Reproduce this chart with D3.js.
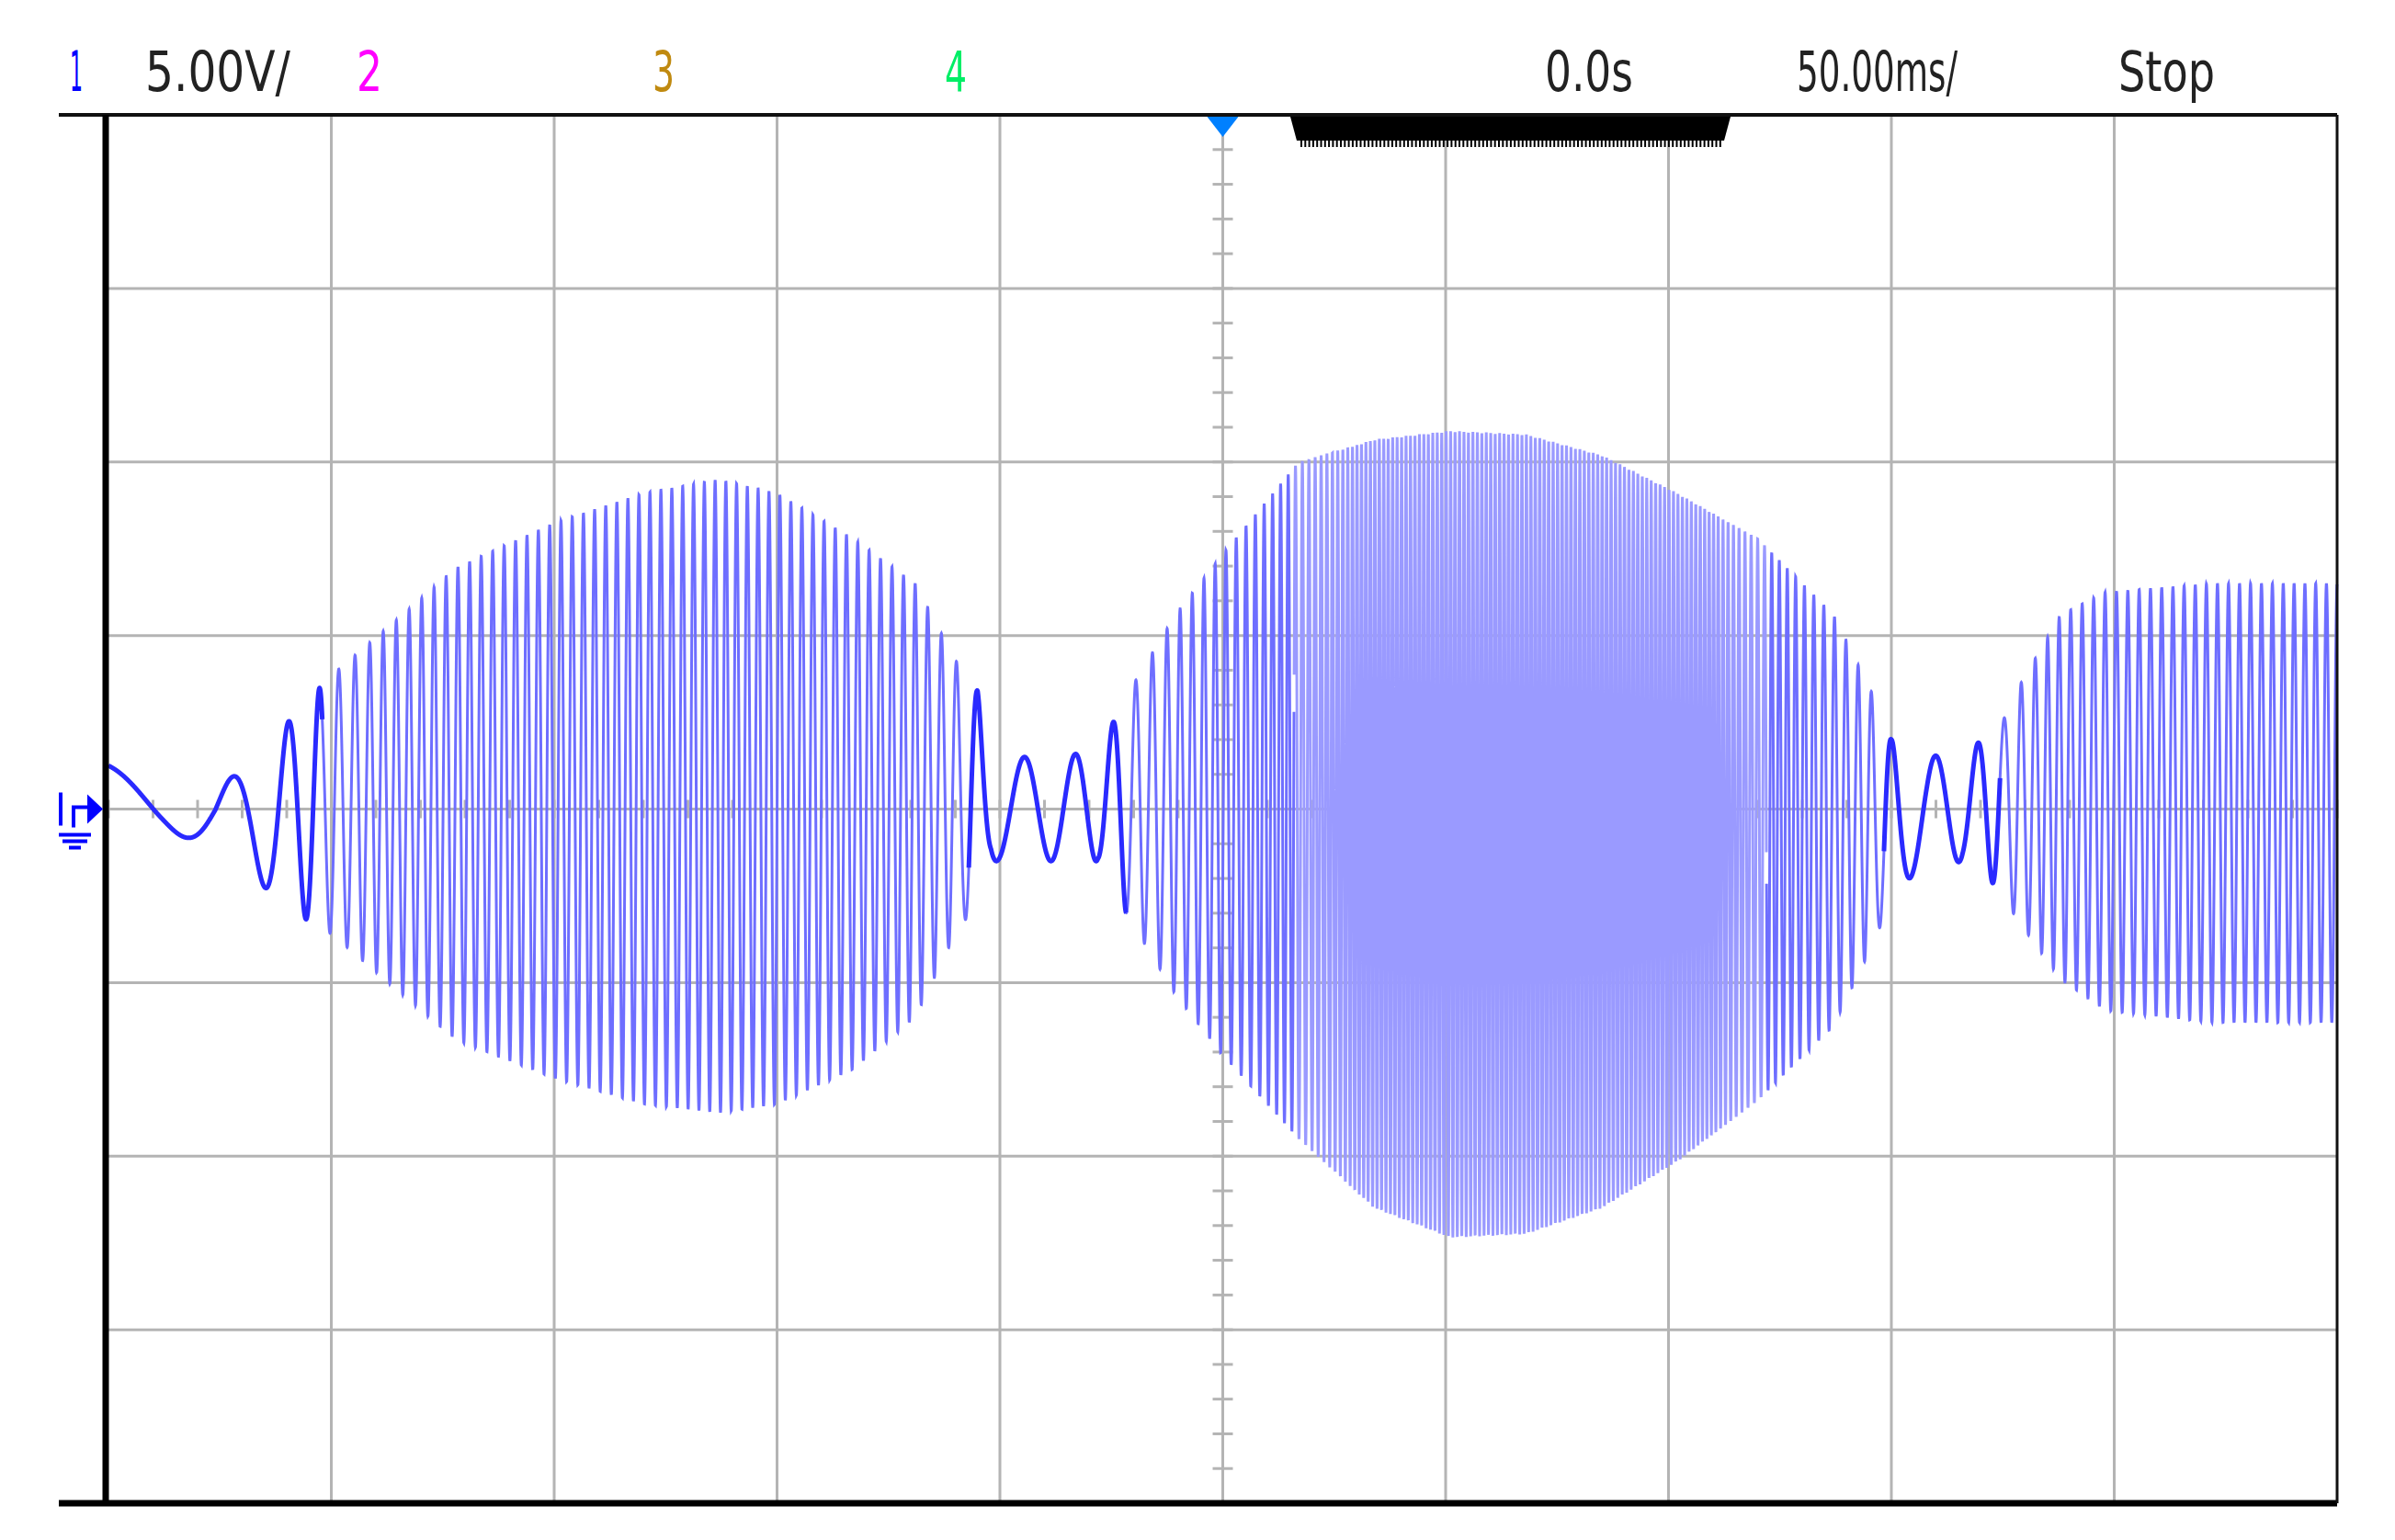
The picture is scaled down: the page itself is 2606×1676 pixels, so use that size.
<!DOCTYPE html>
<html><head><meta charset="utf-8">
<script src="https://cdn.jsdelivr.net/npm/d3@7"></script>
<style>body{margin:0;background:#fff}svg{display:block}</style>
</head><body>
<svg id="c" width="2606" height="1676"></svg>
<script>
// ---- data ----
const timeRange = [-250, 250];      // ms, 50 ms/div
const voltRange = [-20, 20];        // V, 5 V/div
// envelope samples: time (ms), top and bottom (divisions)
const envT   = [-250,-238,-226,-215,-208,-200,-184,-172,-150,-130,-113,-100,-83,-69,-60,-55,-52,-40,-28,-21,-10.6,0,17,34,51,68,85,102,120,137,147,150,158,166,174,178,188,198,222,250];
const envTop = [0.25,0.10,0.10,0.35,0.55,0.77,1.12,1.39,1.65,1.82,1.90,1.82,1.56,1.30,0.86,0.68,0.30,0.30,0.33,0.68,1.12,1.47,2.00,2.13,2.18,2.16,2.04,1.82,1.56,1.12,0.60,0.40,0.30,0.33,0.45,0.68,1.12,1.25,1.30,1.30];
const envBot = [0.00,-0.10,-0.25,-0.45,-0.60,-0.72,-1.07,-1.33,-1.55,-1.70,-1.75,-1.70,-1.50,-1.20,-0.72,-0.54,-0.30,-0.30,-0.30,-0.63,-1.07,-1.42,-1.90,-2.30,-2.47,-2.45,-2.30,-2.03,-1.68,-1.25,-0.72,-0.45,-0.35,-0.30,-0.45,-0.63,-0.98,-1.16,-1.23,-1.23];
// carrier period (ms) along time
const perT = [-250,-225,-210,-200,-190,-170,-110,-70,-60,-55,-50,-35,-25,-20,-10,0,20,30,110,130,145,150,155,165,172,178,185,250];
const perV = [40,20,9,4,3,2.6,2.4,2.6,3.5,6,13,11,7,4,2.8,2.4,1.4,1.0,1.0,2.0,3,6,12,10,6,3.5,2.6,2.4];
const hLabels = [
  {t:"1", c:"#0000ff"}, {t:"5.00V/", c:"#222"}, {t:"2", c:"#ff00ff"},
  {t:"3", c:"#c08a10"}, {t:"4", c:"#00ee66"}, {t:"0.0s", c:"#222"},
  {t:"50.00ms/", c:"#222"}, {t:"Stop", c:"#222"}];

// ---- layout ----
const svg = d3.select("#c");
const L=118, R=2543, T=125, B=1636;
const x = d3.scaleLinear().domain(timeRange).range([L,R]);
const y = d3.scaleLinear().domain(voltRange).range([B,T]);
const g = svg.append("g");

// grid
d3.range(-250,251,50).slice(1,-1).forEach(v=>g.append("line").attr("x1",x(v)).attr("x2",x(v)).attr("y1",T).attr("y2",B).attr("stroke","#b4b4b4").attr("stroke-width",3));
d3.range(-20,21,5).slice(1,-1).forEach(v=>g.append("line").attr("x1",L).attr("x2",R).attr("y1",y(v)).attr("y2",y(v)).attr("stroke","#b4b4b4").attr("stroke-width",3));
// centre ticks
d3.range(-250,251,10).forEach(v=>g.append("line").attr("x1",x(v)).attr("x2",x(v)).attr("y1",y(0)-10).attr("y2",y(0)+10).attr("stroke","#b4b4b4").attr("stroke-width",3));
d3.range(-20,21,1).forEach(v=>g.append("line").attr("x1",x(0)-11).attr("x2",x(0)+11).attr("y1",y(v)).attr("y2",y(v)).attr("stroke","#b4b4b4").attr("stroke-width",3));

// waveform
const topS = d3.scaleLinear().domain(envT).range(envTop).clamp(true);
const botS = d3.scaleLinear().domain(envT).range(envBot).clamp(true);
const perS = d3.scaleLinear().domain(perT).range(perV).clamp(true);
const pts=[]; let ph=Math.PI/2; const dt=0.03;
for(let t=timeRange[0]; t<=timeRange[1]; t+=dt){
  const a=(topS(t)-botS(t))/2, m=(topS(t)+botS(t))/2;
  pts.push([t,(m+a*Math.sin(ph))*5, perS(t)]);
  ph += 2*Math.PI*dt/perS(t);
}
const line = d3.line().x(d=>x(d[0])).y(d=>y(d[1]));
g.append("path").datum(pts.filter(d=>d[2]<1.6)).attr("fill","none").attr("stroke","#9a9aff").attr("stroke-width",3)
 .attr("d",line.defined(()=>true));
g.append("path").datum(pts).attr("fill","none").attr("stroke","#6e6eff").attr("stroke-width",3)
 .attr("d",d3.line().x(d=>x(d[0])).y(d=>y(d[1])).defined(d=>d[2]>=1.6));
g.append("path").datum(pts).attr("fill","none").attr("stroke","#2a2aff").attr("stroke-width",5)
 .attr("d",d3.line().x(d=>x(d[0])).y(d=>y(d[1])).defined(d=>d[2]>=5));

// frame
g.append("line").attr("x1",64).attr("x2",R).attr("y1",T).attr("y2",T).attr("stroke","#111").attr("stroke-width",4);
g.append("line").attr("x1",64).attr("x2",R).attr("y1",B).attr("y2",B).attr("stroke","#000").attr("stroke-width",7);
g.append("line").attr("x1",115).attr("x2",115).attr("y1",T).attr("y2",B).attr("stroke","#000").attr("stroke-width",7);
g.append("line").attr("x1",R).attr("x2",R).attr("y1",T).attr("y2",B).attr("stroke","#111").attr("stroke-width",3);

// trigger marker + memory bar
g.append("path").attr("d",`M${x(0)-17},${T+2}L${x(0)+17},${T+2}L${x(0)},${T+24}Z`).attr("fill","#0080ff");
g.append("path").attr("d","M1404,127L1883,127L1876,153L1411,153Z").attr("fill","#000");
d3.range(1416,1872,4.3).forEach(v=>g.append("line").attr("x1",v).attr("x2",v).attr("y1",150).attr("y2",160).attr("stroke","#000").attr("stroke-width",2));

// ground marker
const gy=y(0);
g.append("path").attr("d",`M66,${gy-18}V${gy+18}M80,${gy+20}V${gy-2}H96`).attr("stroke","#0000ff").attr("stroke-width",4).attr("fill","none");
g.append("path").attr("d",`M95,${gy-16}L112,${gy}L95,${gy+16}Z`).attr("fill","#0000ff");
g.append("path").attr("d",`M64,${gy+28}H99M68,${gy+35}H95M75,${gy+42}H88`).attr("stroke","#0000ff").attr("stroke-width",4);

// header text
const pos=[[76,14],[158,158],[388,28],[710,24],[1028,24],[1681,96],[1955,175],[2305,105]];
hLabels.forEach((d,i)=>{
  g.append("text").attr("x",pos[i][0]).attr("y",99).text(d.t).attr("fill",d.c)
   .attr("font-family","DejaVu Sans Condensed, DejaVu Sans").attr("font-size",60)
   .attr("textLength",pos[i][1]).attr("lengthAdjust","spacingAndGlyphs");
});
</script></body></html>
